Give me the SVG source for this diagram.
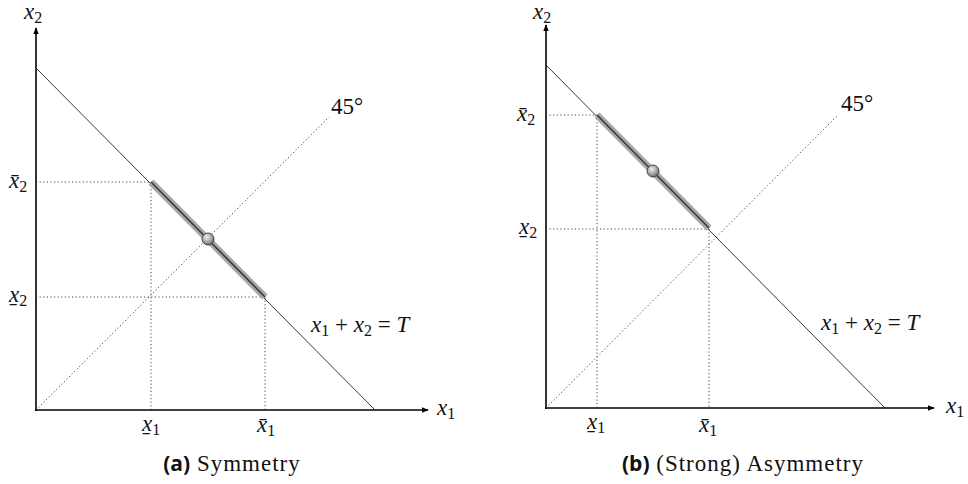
<svg xmlns="http://www.w3.org/2000/svg" width="968" height="484" viewBox="0 0 968 484">
<style>
.axis{stroke:#000;stroke-width:1.6;fill:none}
.budget{stroke:#222;stroke-width:0.9;fill:none}
.dot{stroke:#333;stroke-width:0.9;stroke-dasharray:1.2 2.4;fill:none}
.band{stroke:#a8a8a8;stroke-width:7;stroke-linecap:butt;fill:none}
.core{stroke:#3a3a3a;stroke-width:1.6;fill:none}
text{font-family:'Liberation Serif',Tinos,'Times New Roman',Times,'DejaVu Serif','Noto Serif',serif;fill:#111}
.m{font-style:italic;font-size:23px}
.r{font-style:normal;font-size:23px}
.sub{font-style:normal;font-size:16px}
.cap{font-size:23px;letter-spacing:1px}
.capb{font-family:'Open Sans','DejaVu Sans',sans-serif;font-weight:bold;font-size:21px}
.pt{fill:url(#ball);stroke:#444;stroke-width:1}
</style>
<defs>
<marker id="arr" viewBox="0 0 10 10" refX="9" refY="5" markerWidth="7" markerHeight="7" markerUnits="userSpaceOnUse" orient="auto">
<path d="M0,1 L10,5 L0,9 Z" fill="#000"/>
</marker>
<radialGradient id="ball" cx="0.4" cy="0.35" r="0.7">
<stop offset="0" stop-color="#f2f2f2"/>
<stop offset="0.6" stop-color="#a0a0a0"/>
<stop offset="1" stop-color="#606060"/>
</radialGradient>
</defs>

<g id="connectors">
<line class="axis" x1="36" y1="411" x2="36" y2="28" marker-end="url(#arr)"/>
<line class="axis" x1="35" y1="410" x2="428" y2="410" marker-end="url(#arr)"/>
<line class="budget" x1="36" y1="68" x2="375" y2="410"/>
<line class="dot" x1="36" y1="410" x2="329" y2="117"/>
<line class="dot" x1="36" y1="182" x2="151" y2="182"/>
<line class="dot" x1="36" y1="297" x2="265" y2="297"/>
<line class="dot" x1="151" y1="182" x2="151" y2="410"/>
<line class="dot" x1="265" y1="297" x2="265" y2="410"/>
<line class="band" x1="151" y1="182" x2="265" y2="297"/>
<line class="core" x1="151" y1="182" x2="265" y2="297"/>
<line class="axis" x1="546" y1="409" x2="546" y2="25" marker-end="url(#arr)"/>
<line class="axis" x1="545" y1="408" x2="934" y2="408" marker-end="url(#arr)"/>
<line class="budget" x1="546" y1="65" x2="885" y2="408"/>
<line class="dot" x1="546" y1="408" x2="837" y2="116"/>
<line class="dot" x1="546" y1="115" x2="597" y2="115"/>
<line class="dot" x1="546" y1="229" x2="709" y2="229"/>
<line class="dot" x1="597" y1="115" x2="597" y2="408"/>
<line class="dot" x1="709" y1="229" x2="709" y2="408"/>
<line class="band" x1="597" y1="115" x2="709" y2="228"/>
<line class="core" x1="597" y1="115" x2="709" y2="228"/>
</g>

<g id="point-a"><circle class="pt" cx="208" cy="239" r="6"/></g>
<g id="point-b"><circle class="pt" cx="653" cy="171" r="6"/></g>

<g id="labels-a">
<text class="m" x="24" y="19">x<tspan class="sub" dy="4">2</tspan></text>
<text class="m" x="437" y="415">x<tspan class="sub" dy="4">1</tspan></text>
<text class="m" x="9" y="188">x̄<tspan class="sub" dy="4">2</tspan></text>
<text class="m" x="9" y="302">x̱<tspan class="sub" dy="4">2</tspan></text>
<text class="m" x="142" y="431">x̱<tspan class="sub" dy="4">1</tspan></text>
<text class="m" x="257" y="432">x̄<tspan class="sub" dy="4">1</tspan></text>
<text class="r" x="331" y="114">45°</text>
<text class="m" x="311" y="332">x<tspan class="sub" dy="4">1</tspan><tspan class="r" dy="-4"> + </tspan>x<tspan class="sub" dy="4">2</tspan><tspan class="r" dy="-4"> = </tspan>T</text>
<text x="232" y="471" text-anchor="middle"><tspan class="capb">(a)</tspan><tspan class="cap"> Symmetry</tspan></text>
</g>

<g id="labels-b">
<text class="m" x="533" y="19">x<tspan class="sub" dy="4">2</tspan></text>
<text class="m" x="946" y="413">x<tspan class="sub" dy="4">1</tspan></text>
<text class="m" x="517" y="121">x̄<tspan class="sub" dy="4">2</tspan></text>
<text class="m" x="519" y="234">x̱<tspan class="sub" dy="4">2</tspan></text>
<text class="m" x="587" y="429">x̱<tspan class="sub" dy="4">1</tspan></text>
<text class="m" x="699" y="432">x̄<tspan class="sub" dy="4">1</tspan></text>
<text class="r" x="841" y="111">45°</text>
<text class="m" x="821" y="330">x<tspan class="sub" dy="4">1</tspan><tspan class="r" dy="-4"> + </tspan>x<tspan class="sub" dy="4">2</tspan><tspan class="r" dy="-4"> = </tspan>T</text>
<text x="743" y="471" text-anchor="middle"><tspan class="capb">(b)</tspan><tspan class="cap"> (Strong) Asymmetry</tspan></text>
</g>
</svg>
